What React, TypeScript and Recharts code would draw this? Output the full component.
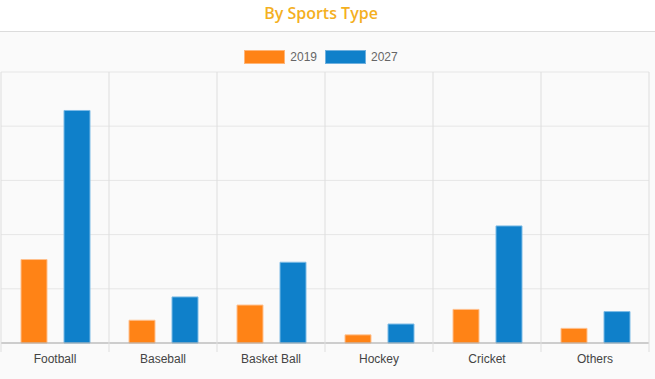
import { BarChart, Bar, XAxis, YAxis, CartesianGrid } from 'recharts';

const sports = ['Football', 'Baseball', 'Basket Ball', 'Hockey', 'Cricket', 'Others'];
const values2019 = [15.4, 4.2, 7.0, 1.5, 6.2, 2.7];
const values2027 = [42.9, 8.5, 14.9, 3.5, 21.6, 5.8];
const yTicks = [0, 10, 20, 30, 40, 50];

const ORANGE = '#ff8316';
const BLUE = '#0f80ca';

const CHART_W = 655;
const CHART_H = 347;
const MARGIN = { top: 40, right: 6, bottom: 6, left: 1 };
const AXIS_H = 30;
const PLOT_W = CHART_W - MARGIN.left - MARGIN.right;
const PLOT_H = CHART_H - MARGIN.top - MARGIN.bottom - AXIS_H;
const BAND = PLOT_W / sports.length;

const data = sports.map((name, i) => ({
    name,
    y2019: values2019[i],
    y2027: values2027[i]
}));

function SportTick(props: any) {
    const { x, y, payload, index } = props;
    const left = x - BAND / 2;
    const right = x + BAND / 2;
    return (
        <g>
            <line x1={left} x2={left} y1={y - PLOT_H} y2={y + 9} stroke="#dedede" />
            {index === sports.length - 1 && (
                <line x1={right} x2={right} y1={y - PLOT_H} y2={y + 9} stroke="#dedede" />
            )}
            <text
                x={x}
                y={y + 20}
                textAnchor="middle"
                fill="#444"
                fontSize={12}
                fontFamily="'Liberation Sans', Arial, sans-serif"
            >
                {payload.value}
            </text>
        </g>
    );
}

function LegendItem({ color, border, label }: { color: string; border: string; label: string }) {
    return (
        <div style={{ display: 'flex', alignItems: 'center', marginRight: 8 }}>
            <div
                style={{
                    width: 41,
                    height: 14,
                    boxSizing: 'border-box',
                    background: color,
                    border: `1px solid ${border}`,
                    marginRight: 5
                }}
            />
            <span style={{ fontSize: 12, color: '#666', lineHeight: '14px' }}>{label}</span>
        </div>
    );
}

export default function App() {
    return (
        <div
            style={{
                position: 'absolute',
                left: 0,
                top: 0,
                width: 655,
                height: 379,
                background: '#fff',
                fontFamily: "'Liberation Sans', Arial, sans-serif",
                overflow: 'hidden'
            }}
        >
            <div
                style={{
                    position: 'absolute',
                    left: 0,
                    top: 0,
                    width: 655,
                    height: 31,
                    borderBottom: '1px solid #dcdcdc',
                    boxShadow: '0 1px 2px rgba(0,0,0,0.05)'
                }}
            >
                <div
                    style={{
                        width: 642,
                        textAlign: 'center',
                        paddingTop: 2,
                        lineHeight: '22px',
                        fontFamily: "'Open Sans', sans-serif",
                        fontWeight: 600,
                        fontSize: 16,
                        color: '#f4b01f'
                    }}
                >
                    By Sports Type
                </div>
            </div>
            <div
                style={{
                    position: 'absolute',
                    left: 0,
                    top: 32,
                    width: 655,
                    height: 347,
                    background: '#fafafa'
                }}
            >
                <div
                    style={{
                        position: 'absolute',
                        left: 0,
                        top: 18,
                        width: 650,
                        display: 'flex',
                        justifyContent: 'center'
                    }}
                >
                    <LegendItem color={ORANGE} border="#ffb577" label="2019" />
                    <LegendItem color={BLUE} border="#6fb0de" label="2027" />
                </div>
                <div style={{ position: 'absolute', left: 0, top: 0 }}>
                    <BarChart
                        width={CHART_W}
                        height={CHART_H}
                        data={data}
                        margin={MARGIN}
                        barSize={26}
                        barGap={17}
                    >
                        <CartesianGrid vertical={false} stroke="#e6e6e6" />
                        <XAxis
                            dataKey="name"
                            height={AXIS_H}
                            tickLine={false}
                            tickSize={0}
                            tickMargin={0}
                            axisLine={{ stroke: '#aaa' }}
                            tick={<SportTick />}
                            interval={0}
                        />
                        <YAxis hide domain={[0, 50]} ticks={yTicks} />
                        <Bar
                            dataKey="y2019"
                            name="2019"
                            fill={ORANGE}
                            stroke="#ffc08e"
                            strokeWidth={1}
                            isAnimationActive={false}
                        />
                        <Bar
                            dataKey="y2027"
                            name="2027"
                            fill={BLUE}
                            stroke="#7dbbe6"
                            strokeWidth={1}
                            isAnimationActive={false}
                        />
                    </BarChart>
                </div>
            </div>
        </div>
    );
}
